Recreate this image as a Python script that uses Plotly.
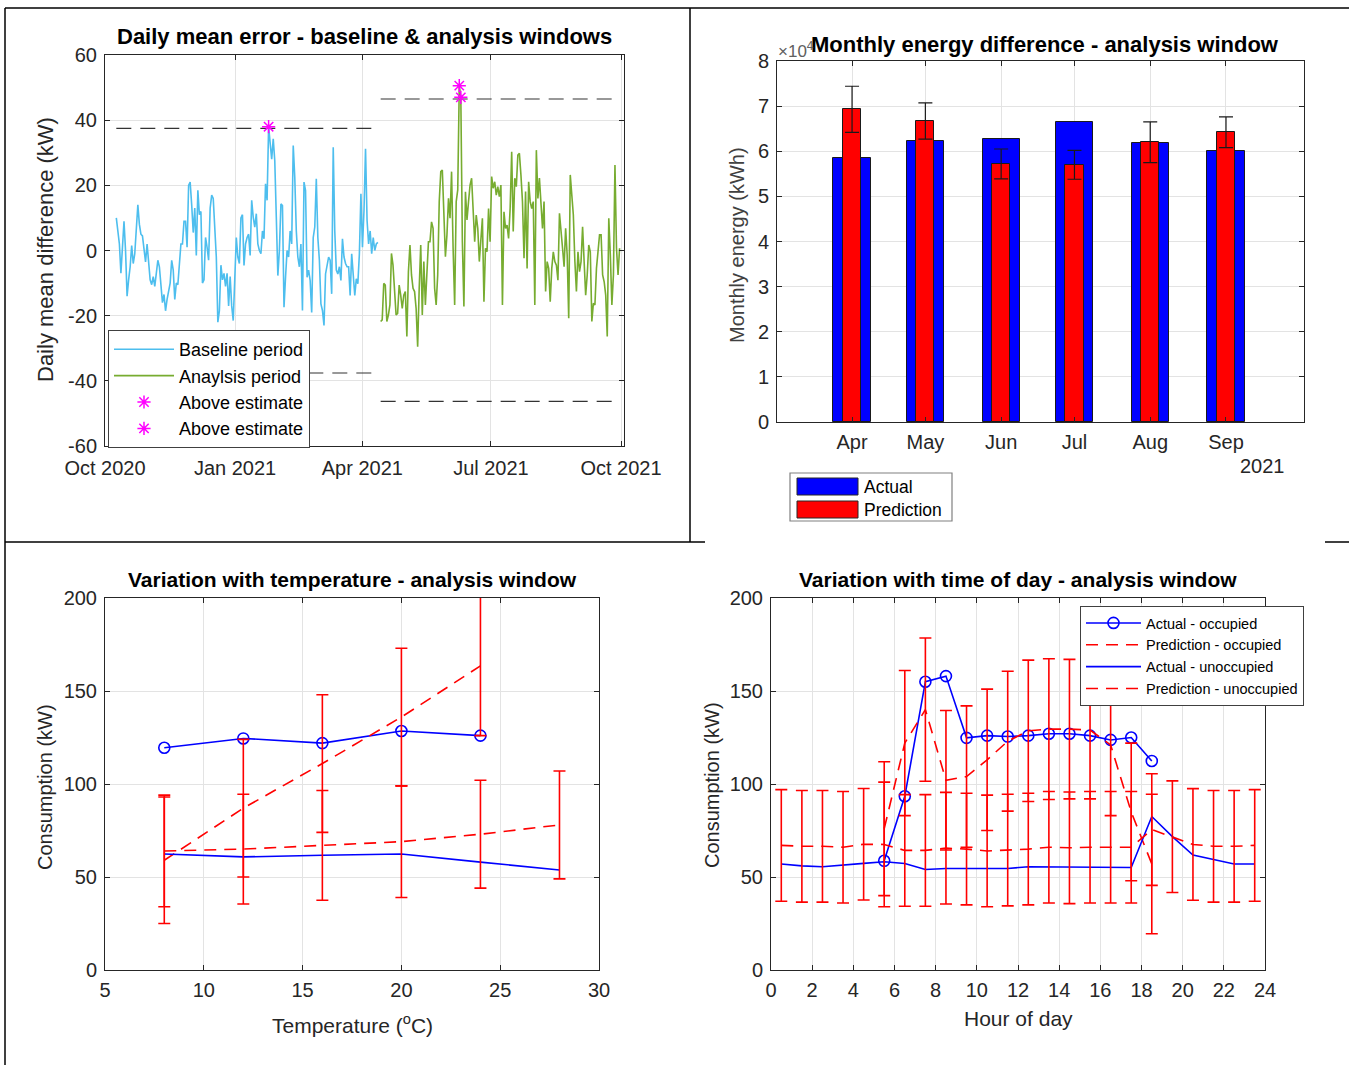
import numpy as np
import pandas as pd
import plotly.graph_objects as go

W, H = 1349, 1065
FONT = "Liberation Sans, Arial, sans-serif"
TXT = "#262626"

# ---------------- DATA ----------------
# Panel 1: daily mean error (kW)
baseline_start, baseline_end = "2020-10-09", "2021-04-12"
analysis_start, analysis_end = "2021-04-14", "2021-09-30"
baseline_err = [10, 6, 2, -7, 3, 9, 0, -14, -9, -5, 1.5, -4, -1, 6, 14, 8, 5, 4.5, 0, -3.5, 2, -3, -9,
                -10.5, -8, -11, -6, -3, -5, -9.5, -16, -13.5, -18.5, -15, -12.5, -10, -3, -6, -15, -10,
                -10.5, -4, 2, 2, 9, 9, 1, 20, 21, 14, 5.5, 13, -1.5, 18.5, 11, 12, -10, -9, 4, 1, -3, 13,
                17, 16, 7, -2, -22, -18.5, -4.5, -9, -7, -11, -7, -17, -8, -17, -21.5, -8, 4, -2, -4, 10,
                11, -4.6, 2, 4, 5, -1.5, 15.4, 10.2, 7.2, 11.3, 2, 0, -1, 6, 3.6, 20.5, 15.4, 38, 33.8, 28,
                34.3, 27.6, 10.2, -7.7, 0, 14.3, 13.8, -17.4, -8.2, 0, -2, 6, 2, 32.2, 22.5, 6, -2, -5, 2,
                -18.4, 21, 18.4, -8.2, -6, -9.2, -19, 4, 7.2, 22, 4, -3, -16.4, -18.4, -23, -7.2, -4, -2,
                -3, -13.3, 31.7, 6, -6, -7.2, -5, -9.2, 3.6, -2, -4, -5, -5, -13.8, -1, -9.2, -13.8, -8.7,
                -10.2, -1, 17.4, 1, 12.3, 31.2, 9.2, 2, 6, -1, 4, 0, 2, 2.5]
analysis_err = [-21.8, -21.3, -10.1, -10.6, -21.8, -19.8, -16.7, -0.9, -4.5, -11.6, -19.8, -19.3, -10.6,
                -13.7, -17.8, -13.7, -12.6, -26.4, -6.5, 1.7, -7.5, -11.6, -12.6, -17.8, -29.5, -11.6, 1.7,
                -19.8, -3.4, -16.7, -7.5, 2.7, 2.7, 8.8, 6.8, -11.6, -16.7, -7.5, 15, 24.2, 24.7, 10.9,
                -1.9, 4.8, 16, 9.9, 24.2, 0.7, -16.7, 15, 18.6, 50.6, 47.0, 2.7, -17.2, 18, 9.4, 15, 20.1,
                22.2, 9.9, 2.7, 10.9, 6.8, -3.4, 2.7, 9.9, -15.7, 0.7, -0.4, 12.9, 2.7, 22.7, 19.1, 21.1,
                17, 19.6, 16.5, 20.1, -16.7, 11.9, 6.8, 7.8, 3.7, 12.9, 30.3, 5.8, 22.2, 19.6, 29.3, 29.8,
                23.2, 15, -2.4, 18.1, -5.5, 21.1, 15, 12.9, 15, -16.7, 30.8, 16, 22.2, 14, 6.8, 15, -12.6,
                -3.4, -5.5, -15.7, -5.5, -0.4, -3.4, -4.5, -9.1, 11.4, 4.8, 0.7, -5, 6.8, -1.4, -20.8,
                23.2, 16, 10.9, -3.4, -12.6, -0.4, -6.5, -3.4, 7.3, -3.4, -13.7, -7.5, 1.7, -0.4, -21.8,
                -16.2, -16.7, -5.5, 0.7, 4.8, 4.8, -7.5, -9.6, -13.7, -26.4, 9.9, -1.4, -16.7, -7.5, 26.2,
                0.7, -7.5, 0.7]
baseline_limits = [37.5, -37.6]
analysis_limits = [46.5, -46.3]
p1_tickvals = ["2020-10-01", "2021-01-01", "2021-04-01", "2021-07-01", "2021-10-01"]
p1_ticktext = ["Oct 2020", "Jan 2021", "Apr 2021", "Jul 2021", "Oct 2021"]
p1_ytickvals = [-60, -40, -20, 0, 20, 40, 60]
p1_yticktext = ["-60", "-40", "-20", "0", "20", "40", "60"]

# Panel 2: monthly energy (kWh)
months = ["2021-04-01", "2021-05-01", "2021-06-01", "2021-07-01", "2021-08-01", "2021-09-01"]
month_labels = ["Apr", "May", "Jun", "Jul", "Aug", "Sep"]
energy_actual = [58500, 62300, 62800, 66500, 61800, 60000]
energy_pred = [69300, 66700, 57200, 57000, 62000, 64200]
energy_pred_err = [5100, 4000, 3300, 3200, 4500, 3400]

# Panel 3: variation with temperature
temp_occ = [8, 12, 16, 20, 24]
temp_unocc = [8, 12, 16, 20, 24, 28]
t_actual_occ = [119.5, 124.5, 122, 128.5, 126]
t_pred_occ = [59, 87, 111, 136, 163.5]
t_pred_occ_err = [34, 37, 37, 37, 37.5]
t_actual_unocc = [62.4, 60.8, 61.7, 62.4, 58, 53.8]
t_pred_unocc = [64, 65, 67, 69, 73, 78]
t_pred_unocc_err = [30, 29.5, 29.5, 30, 29, 29]

# Panel 4: variation with time of day
hours_occ = [5.5, 6.5, 7.5, 8.5, 9.5, 10.5, 11.5, 12.5, 13.5, 14.5, 15.5, 16.5, 17.5, 18.5]
hours_all = [h + 0.5 for h in range(24)]
h_actual_occ = [58.7, 93.4, 155, 158, 124.8, 126, 125.5, 126, 127, 127, 126, 123.7, 125, 112.4]
h_pred_occ = [76, 122, 140, 102, 104, 113, 123, 128.6, 129.5, 129.5, 129, 121, 85, 57]
h_pred_occ_err = [36, 39, 38.5, 37.5, 38, 38, 37.6, 38, 37.8, 37.5, 37, 38, 37, 37.5]
h_actual_unocc = [57, 56, 55.5, 56.2, 57.3, 58.2, 57.3, 54, 54.6, 54.6, 54.6, 54.6, 55.5, 55.5, 55.5,
                  55.1, 55.1, 55.1, 82.5, 71.7, 61.8, 59.4, 57, 57]
h_pred_unocc = [67, 66.5, 66.5, 66, 67.6, 67.5, 64.3, 64.3, 65.5, 65, 64, 64.5, 65, 66, 65.7, 66, 66,
                66, 75.5, 71.7, 67.5, 66.5, 66.5, 67]
h_pred_unocc_err = [30, 30, 30, 30, 30, 33.5, 30, 30, 30, 30, 30, 30, 30, 30, 30, 30, 30, 30, 30, 30,
                    30, 30, 30, 30]

# ---------------- HELPERS ----------------
def xd(a, b):
    return [a / W, b / W]

def yd(top, bot):
    return [1 - bot / H, 1 - top / H]

def px(x):
    return x / W

def py(y):
    return 1 - y / H

def axis_style(**kw):
    d = dict(showline=True, linecolor=TXT, linewidth=1, mirror="ticks", ticks="inside", ticklen=5,
             tickcolor=TXT, showgrid=True, gridcolor="#E3E3E3", gridwidth=1, zeroline=False,
             automargin=False, tickfont=dict(family=FONT, size=20, color=TXT))
    d.update(kw)
    return d

fig = go.Figure()

# ---------------- PANEL 1 ----------------
b_dates = pd.date_range(baseline_start, baseline_end, periods=len(baseline_err))
a_dates = pd.date_range(analysis_start, analysis_end, periods=len(analysis_err))
b_arr = np.array(baseline_err)
a_arr = np.array(analysis_err)

for lim in baseline_limits:
    fig.add_trace(go.Scatter(x=[b_dates[0], b_dates[-1]], y=[lim, lim], mode="lines",
                             line=dict(color="#333333", width=1.2, dash="15px,9px"),
                             showlegend=False, xaxis="x", yaxis="y", hoverinfo="skip"))
for lim in analysis_limits:
    fig.add_trace(go.Scatter(x=[a_dates[0], a_dates[-1]], y=[lim, lim], mode="lines",
                             line=dict(color="#333333", width=1.2, dash="15px,9px"),
                             showlegend=False, xaxis="x", yaxis="y", hoverinfo="skip"))

fig.add_trace(go.Scatter(x=b_dates, y=b_arr, mode="lines", name="Baseline period",
                         line=dict(color="#4DBEEE", width=1.6), xaxis="x", yaxis="y", legend="legend"))
fig.add_trace(go.Scatter(x=a_dates, y=a_arr, mode="lines", name="Anaylsis period",
                         line=dict(color="#77AC30", width=1.6), xaxis="x", yaxis="y", legend="legend"))
mb = b_arr >= baseline_limits[0]
ma = a_arr >= analysis_limits[0]
fig.add_trace(go.Scatter(x=b_dates[mb], y=b_arr[mb], mode="markers", name="Above estimate",
                         marker=dict(symbol="asterisk-open", size=11, color="#FF00FF",
                                     line=dict(color="#FF00FF", width=1.5)),
                         xaxis="x", yaxis="y", legend="legend"))
fig.add_trace(go.Scatter(x=a_dates[ma], y=a_arr[ma], mode="markers", name="Above estimate",
                         marker=dict(symbol="asterisk-open", size=11, color="#FF00FF",
                                     line=dict(color="#FF00FF", width=1.5)),
                         xaxis="x", yaxis="y", legend="legend"))

# ---------------- PANEL 2 ----------------
DAY = 86400000
fig.add_trace(go.Bar(x=months, y=energy_actual, width=15.2 * DAY, name="Actual",
                     marker=dict(color="#0000FF", line=dict(color="#1a1a1a", width=1)),
                     xaxis="x2", yaxis="y2", showlegend=False))
fig.add_trace(go.Bar(x=months, y=energy_pred, width=7.4 * DAY, name="Prediction",
                     marker=dict(color="#FF0000", line=dict(color="#1a1a1a", width=1)),
                     error_y=dict(type="data", array=energy_pred_err, color="#1a1a1a",
                                  thickness=1.2, width=7),
                     xaxis="x2", yaxis="y2", showlegend=False))

# ---------------- PANEL 3 ----------------
fig.add_trace(go.Scatter(x=temp_occ, y=t_actual_occ, mode="lines+markers",
                         line=dict(color="#0000FF", width=1.6),
                         marker=dict(symbol="circle-open", size=11, color="#0000FF",
                                     line=dict(width=1.6, color="#0000FF")),
                         xaxis="x3", yaxis="y3", showlegend=False))
fig.add_trace(go.Scatter(x=temp_occ, y=t_pred_occ, mode="lines",
                         line=dict(color="#FF0000", width=1.6, dash="12px,8px"),
                         error_y=dict(type="data", array=t_pred_occ_err, color="#FF0000",
                                      thickness=1.6, width=6),
                         xaxis="x3", yaxis="y3", showlegend=False))
fig.add_trace(go.Scatter(x=temp_unocc, y=t_actual_unocc, mode="lines",
                         line=dict(color="#0000FF", width=1.6),
                         xaxis="x3", yaxis="y3", showlegend=False))
fig.add_trace(go.Scatter(x=temp_unocc, y=t_pred_unocc, mode="lines",
                         line=dict(color="#FF0000", width=1.6, dash="12px,8px"),
                         error_y=dict(type="data", array=t_pred_unocc_err, color="#FF0000",
                                      thickness=1.6, width=6),
                         xaxis="x3", yaxis="y3", showlegend=False))

# ---------------- PANEL 4 ----------------
fig.add_trace(go.Scatter(x=hours_occ, y=h_actual_occ, mode="lines+markers", name="Actual - occupied",
                         line=dict(color="#0000FF", width=1.6),
                         marker=dict(symbol="circle-open", size=11, color="#0000FF",
                                     line=dict(width=1.6, color="#0000FF")),
                         xaxis="x4", yaxis="y4", legend="legend2"))
fig.add_trace(go.Scatter(x=hours_occ, y=h_pred_occ, mode="lines", name="Prediction - occupied",
                         line=dict(color="#FF0000", width=1.6, dash="12px,8px"),
                         error_y=dict(type="data", array=h_pred_occ_err, color="#FF0000",
                                      thickness=1.6, width=6),
                         xaxis="x4", yaxis="y4", legend="legend2"))
fig.add_trace(go.Scatter(x=hours_all, y=h_actual_unocc, mode="lines", name="Actual - unoccupied",
                         line=dict(color="#0000FF", width=1.6),
                         xaxis="x4", yaxis="y4", legend="legend2"))
fig.add_trace(go.Scatter(x=hours_all, y=h_pred_unocc, mode="lines", name="Prediction - unoccupied",
                         line=dict(color="#FF0000", width=1.6, dash="12px,8px"),
                         error_y=dict(type="data", array=h_pred_unocc_err, color="#FF0000",
                                      thickness=1.6, width=6),
                         xaxis="x4", yaxis="y4", legend="legend2"))

# ---------------- LAYOUT ----------------
annotations = []
def text(x, y, s, size=18, bold=False, angle=0, color=TXT, xanchor="center"):
    annotations.append(dict(x=px(x), y=py(y), xref="paper", yref="paper", text=s, showarrow=False,
                            textangle=angle, xanchor=xanchor, yanchor="middle",
                            font=dict(family=FONT, size=size, color=color,
                                      weight="bold" if bold else "normal")))

text(364, 37, "Daily mean error - baseline & analysis windows", 22, True, color="#000000")
text(1045, 44, "Monthly energy difference - analysis window", 22, True, color="#000000")
text(352, 579, "Variation with temperature - analysis window", 21, True, color="#000000")
text(1018, 579, "Variation with time of day - analysis window", 21, True, color="#000000")
text(45, 250, "Daily mean difference (kW)", 22, angle=-90)
text(737, 245, "Monthly energy (kWh)", 20, angle=-90, color="#404040")
text(45, 787, "Consumption (kW)", 20, angle=-90)
text(712, 785, "Consumption (kW)", 20, angle=-90)
text(352, 1024, "Temperature (<sup>o</sup>C)", 21)
text(1018, 1018, "Hour of day", 21)
text(1262, 466, "2021", 20)
text(776, 50, "×10<sup>4</sup>", 17, color="#606060", xanchor="left")
text(862, 487, "Actual", 17.5, xanchor="left", color="#000000")
text(862, 510, "Prediction", 17.5, xanchor="left", color="#000000")

shapes = []
def line(x0, y0, x1, y1, color="#000000", w=1.5):
    shapes.append(dict(type="line", xref="paper", yref="paper", x0=px(x0), y0=py(y0), x1=px(x1),
                       y1=py(y1), line=dict(color=color, width=w)))
def rect(x0, y0, x1, y1, fill, lc="#262626", w=1):
    shapes.append(dict(type="rect", xref="paper", yref="paper", x0=px(x0), y0=py(y0), x1=px(x1),
                       y1=py(y1), fillcolor=fill, line=dict(color=lc, width=w)))

# panel borders of the composite image
line(5, 8, 1349, 8)
line(690, 8, 690, 542)
line(5, 542, 705, 542)
line(5, 8, 5, 1065)
line(1325, 542, 1349, 542)
# bar-chart legend (drawn as in the original)
rect(790, 473, 952, 521, "white", "#808080", 1.2)
rect(797, 478, 858, 495, "#0000FF", "#262626", 1)
rect(797, 501, 858, 518, "#FF0000", "#262626", 1)

fig.update_layout(
    width=W, height=H, margin=dict(l=0, r=0, t=0, b=0, pad=0, autoexpand=False),
    paper_bgcolor="white", plot_bgcolor="white", barmode="overlay", bargap=0,
    font=dict(family=FONT, color=TXT),
    xaxis=axis_style(domain=xd(105, 624), anchor="y", type="date",
                     range=["2020-10-01", "2021-10-03 03:00"], tickvals=p1_tickvals,
                     ticktext=p1_ticktext, ticklabelstandoff=4),
    yaxis=axis_style(domain=yd(55, 446), anchor="x", range=[-60, 60], tickvals=p1_ytickvals,
                     ticktext=p1_yticktext, ticklabelstandoff=3),
    xaxis2=axis_style(domain=xd(777, 1304), anchor="y2", type="date",
                      range=["2021-03-01 07:00", "2021-10-02 22:00"], tickvals=months,
                      ticktext=month_labels, ticklabelstandoff=2),
    yaxis2=axis_style(domain=yd(61, 422), anchor="x2", range=[0, 80000],
                      tickvals=[i * 10000 for i in range(9)], ticktext=[str(i) for i in range(9)],
                      ticklabelstandoff=3),
    xaxis3=axis_style(domain=xd(105, 599), anchor="y3", range=[5, 30], dtick=5,
                      ticklabelstandoff=2),
    yaxis3=axis_style(domain=yd(598, 970), anchor="x3", range=[0, 200], dtick=50,
                      ticklabelstandoff=3),
    xaxis4=axis_style(domain=xd(771, 1265), anchor="y4", range=[0, 24], dtick=2,
                      ticklabelstandoff=2),
    yaxis4=axis_style(domain=yd(598, 970), anchor="x4", range=[0, 200], dtick=50,
                      ticklabelstandoff=3),
    legend=dict(x=px(108), y=py(330), xanchor="left", yanchor="top", bgcolor="white",
                bordercolor="#404040", borderwidth=1, itemwidth=60,
                font=dict(family=FONT, size=18, color="#000000"), tracegroupgap=0),
    legend2=dict(x=px(1080), y=py(606), xanchor="left", yanchor="top", bgcolor="white",
                 bordercolor="#404040", borderwidth=1, itemwidth=55,
                 font=dict(family=FONT, size=14.5, color="#000000"), tracegroupgap=0),
    annotations=annotations, shapes=shapes,
)

fig.write_html("out.html", config={"displayModeBar": False},
               post_script="document.body.style.margin='0';document.body.style.overflow='hidden';")
